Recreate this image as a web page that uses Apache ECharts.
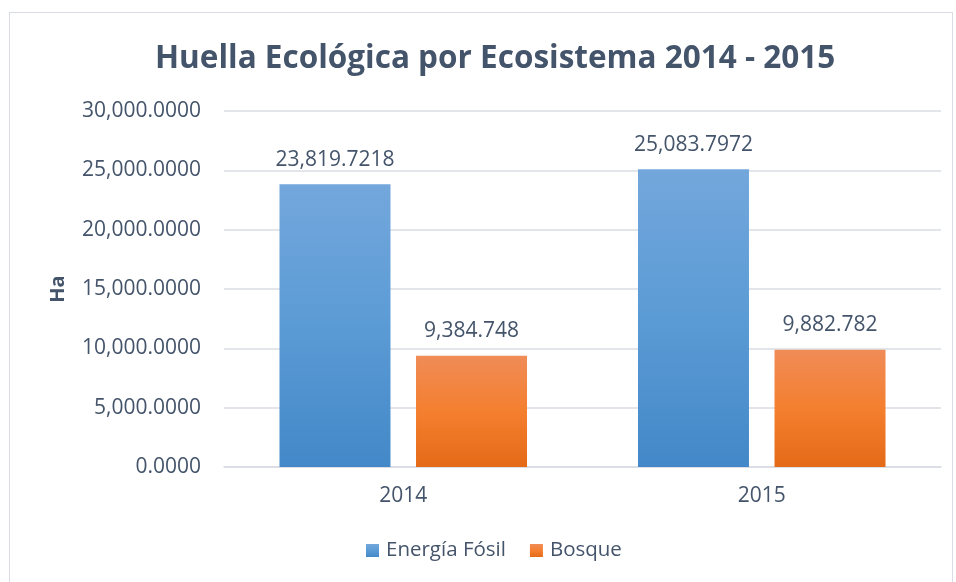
<!DOCTYPE html>
<html>
<head>
<meta charset="utf-8">
<script src="https://cdn.jsdelivr.net/npm/echarts@6/dist/echarts.min.js"></script>
<style>
  html, body { margin: 0; padding: 0; background: #fff; }
  #zhu { width: 956px; height: 582px; }
  #frame { position: absolute; left: 9px; top: 12px; width: 944px; height: 580px; border: 1px solid #d9dde3; box-sizing: border-box; pointer-events: none; }
</style>
</head>
<body>
<div id="zhu"></div>
<div id="frame"></div>
<script>
var years = ['2014', '2015'];
var fosil = [23819.7218, 25083.7972];
var bosque = [9384.748, 9882.782];
var seriesNames = ['Energía Fósil', 'Bosque'];

var textColor = '#44546a';
var font = '"Open Sans", "Liberation Sans", sans-serif';

function conComas(v) {
  var parts = String(v).split('.');
  parts[0] = parts[0].replace(/\B(?=(\d{3})+(?!\d))/g, ',');
  return parts.join('.');
}

function degradado(a, b, c) {
  return new echarts.graphic.LinearGradient(0, 0, 0, 1, [
    { offset: 0, color: a },
    { offset: 0.5, color: b },
    { offset: 1, color: c }
  ]);
}

var chartDom = document.getElementById('zhu');
var myChart = echarts.init(chartDom);
var option = {
  animation: false,
  textStyle: { fontFamily: font, color: textColor },
  title: {
    text: 'Huella Ecológica por Ecosistema 2014 - 2015',
    left: 150,
    top: 38,
    textStyle: { fontFamily: font, fontSize: 31.5, fontWeight: 'bold', color: textColor }
  },
  legend: {
    bottom: 16,
    left: 361,
    itemWidth: 13,
    itemHeight: 13,
    itemGap: 24,
    icon: 'rect',
    textStyle: { fontFamily: font, fontSize: 20.5, color: textColor, padding: [0, 0, 0, 2] }
  },
  grid: { left: 224, right: 15, top: 111, bottom: 115 },
  xAxis: {
    type: 'category',
    data: years,
    axisLine: { lineStyle: { color: '#d9dde3', width: 1.5 } },
    axisTick: { show: false },
    axisLabel: { fontFamily: font, fontSize: 21, color: textColor, margin: 19 }
  },
  yAxis: {
    type: 'value',
    min: 0,
    max: 30000,
    interval: 5000,
    name: 'Ha',
    nameLocation: 'middle',
    nameGap: 156,
    nameTextStyle: { fontFamily: font, fontSize: 20, fontWeight: 'bold', color: textColor },
    axisLine: { show: false },
    axisTick: { show: false },
    splitLine: { lineStyle: { color: '#d9dde3', width: 1.5 } },
    axisLabel: {
      fontFamily: font, fontSize: 21, color: textColor, margin: 23,
      formatter: function (v) {
        return v.toLocaleString('en-US', { minimumFractionDigits: 4, maximumFractionDigits: 4 });
      }
    }
  },
  series: [
    {
      name: seriesNames[0],
      type: 'bar',
      data: fosil,
      barWidth: 111,
      barGap: '23%',
      itemStyle: { color: degradado('#73a7dc', '#5b9bd5', '#4388c8') },
      label: {
        show: true, position: 'top', distance: 14,
        fontFamily: font, fontSize: 21, color: textColor,
        formatter: function (p) { return conComas(p.value); }
      }
    },
    {
      name: seriesNames[1],
      type: 'bar',
      data: bosque,
      barWidth: 111,
      itemStyle: { color: degradado('#f08c57', '#f47f2f', '#e46a17') },
      label: {
        show: true, position: 'top', distance: 14,
        fontFamily: font, fontSize: 21, color: textColor,
        formatter: function (p) { return conComas(p.value); }
      }
    }
  ]
};
option && myChart.setOption(option);
</script>
</body>
</html>
